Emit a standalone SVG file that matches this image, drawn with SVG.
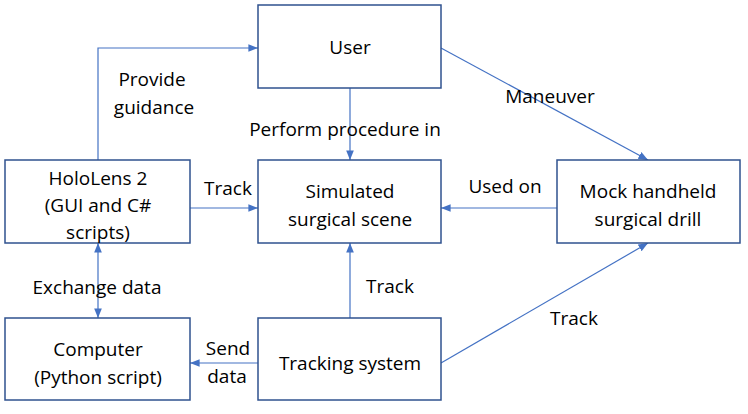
<svg xmlns="http://www.w3.org/2000/svg" width="748" height="414" viewBox="0 0 748 414">
<defs>
<marker id="a" viewBox="0 0 10 10" refX="10" refY="5" markerWidth="8" markerHeight="8" orient="auto-start-reverse"><path d="M0,1 L10,5 L0,9 z" fill="#4472C4"/></marker>
<style>
.b{fill:#fff;stroke:#2F528F;stroke-width:1.5}
.c{fill:none;stroke:#4472C4;stroke-width:1.2;marker-end:url(#a)}
text{font-family:"Open Sans","Liberation Sans",sans-serif;font-size:19px;fill:#000;text-anchor:middle}
</style>
</defs>
<rect width="748" height="414" fill="#fff"/>
<g id="connectors">
<path class="c" d="M98,160 V48 H258"/>
<path class="c" d="M350,88 V160"/>
<path class="c" d="M441,48 L648,160"/>
<path class="c" d="M190,208 H258"/>
<path class="c" d="M557,208 H441"/>
<path class="c" d="M98,243 V318" style="marker-start:url(#a)"/>
<path class="c" d="M350,318 V243"/>
<path class="c" d="M258,363 H190"/>
<path class="c" d="M441,363 L648,243"/>
<text x="152" y="86">Provide</text>
<text x="154" y="114">guidance</text>
<text x="550" y="103">Maneuver</text>
<text x="345" y="136">Perform procedure in</text>
<text x="228" y="195">Track</text>
<text x="505" y="193">Used on</text>
<text x="97" y="294">Exchange data</text>
<text x="390" y="293">Track</text>
<text x="574" y="325">Track</text>
<text x="228" y="355">Send</text>
<text x="227" y="383">data</text>
</g>
<g id="user"><rect class="b" x="258" y="5" width="183" height="83"/><text x="350" y="54">User</text></g>
<g id="scene"><rect class="b" x="258" y="160" width="183" height="83"/><text x="350" y="198">Simulated</text><text x="350" y="226">surgical scene</text></g>
<g id="hololens"><rect class="b" x="5" y="160" width="185" height="83"/><text x="98" y="185">HoloLens 2</text><text x="98" y="212">(GUI and C#</text><text x="98" y="239">scripts)</text></g>
<g id="drill"><rect class="b" x="557" y="160" width="183" height="83"/><text x="648" y="198">Mock handheld</text><text x="648" y="226">surgical drill</text></g>
<g id="computer"><rect class="b" x="5" y="318" width="185" height="82"/><text x="98" y="356">Computer</text><text x="98" y="384">(Python script)</text></g>
<g id="tracking"><rect class="b" x="258" y="318" width="183" height="82"/><text x="350" y="370">Tracking system</text></g>
</svg>
